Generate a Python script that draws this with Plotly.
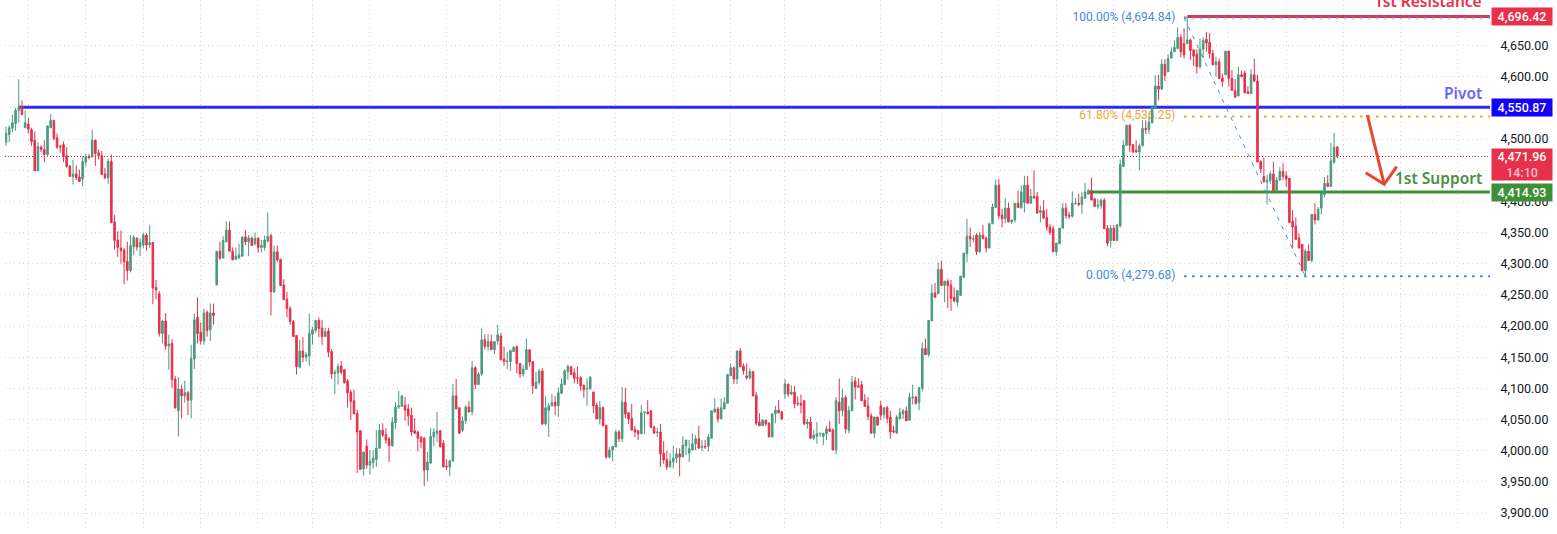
import plotly.graph_objects as go

opens = [4495,4507,4517,4525,4546,4552,4518,4524,4515,4498,
4449,4487,4483,4475,4518,4530,4502,4488,4491,4473,
4457,4440,4444,4439,4436,4463,4472,4471,4498,4478,
4473,4444,4438,4464,4367,4338,4325,4322,4304,4289,
4327,4341,4327,4330,4346,4330,4334,4262,4252,4188,
4208,4168,4172,4115,4064,4099,4088,4093,4081,4147,
4214,4190,4176,4222,4194,4221,4266,4320,4309,4335,
4354,4320,4307,4309,4312,4343,4335,4341,4332,4341,
4326,4326,4336,4345,4255,4319,4307,4266,4243,4228,
4207,4185,4134,4160,4150,4152,4187,4193,4209,4197,
4183,4192,4159,4124,4125,4136,4130,4112,4094,4080,
4060,4032,3971,4007,3977,3981,3986,4004,4033,4026,
4019,4008,4045,4070,4071,4073,4067,4057,4032,4030,
4022,4020,3969,3980,4022,4028,4032,4012,3975,3974,
3984,4088,4069,4033,4048,4070,4062,4133,4106,4123,
4178,4167,4175,4162,4176,4184,4147,4143,4143,4159,
4167,4140,4123,4130,4162,4143,4100,4109,4128,4043,
4065,4072,4078,4072,4092,4106,4127,4135,4125,4117,
4117,4105,4099,4099,4094,4073,4051,4069,4041,3990,
4001,4006,4030,4019,4078,4061,4052,4034,4032,4027,
4061,4062,4064,4038,4029,4030,3996,3986,3975,3982,
3988,3995,3990,4008,3996,4001,4011,4019,4005,4007,
4007,4020,4062,4067,4051,4067,4076,4120,4133,4115,
4160,4136,4120,4117,4127,4089,4046,4040,4049,4044,
4022,4059,4065,4062,4091,4107,4091,4094,4076,4076,
4080,4043,4046,4020,4023,4027,4023,4027,4035,4033,
4001,4078,4064,4085,4033,4064,4112,4104,4106,4081,
4072,4056,4028,4054,4072,4058,4069,4054,4032,4028,
4051,4059,4064,4049,4085,4086,4077,4100,4164,4154,
4208,4253,4252,4291,4265,4272,4266,4246,4238,4249,
4278,4316,4344,4339,4346,4319,4346,4341,4325,4364,
4390,4426,4378,4372,4389,4367,4370,4397,4390,4398,
4426,4397,4408,4408,4382,4385,4374,4359,4356,4319,
4332,4357,4389,4378,4376,4396,4397,4395,4405,4412,
4417,4404,4392,4393,4402,4357,4337,4357,4337,4361,
4456,4490,4522,4491,4482,4479,4489,4517,4515,4526,
4550,4585,4580,4620,4608,4630,4640,4645,4663,4653,
4653,4659,4643,4636,4616,4644,4660,4655,4637,4619,
4624,4598,4603,4641,4597,4578,4569,4603,4606,4576,
4573,4603,4593,4464,4440,4431,4433,4444,4417,4434,
4448,4441,4437,4368,4360,4341,4331,4289,4320,4305,
4379,4370,4389,4411,4429,4424,4463,4487]

highs = [4520,4522,4539,4550,4596,4562,4546,4534,4518,4512,
4495,4490,4498,4521,4540,4530,4509,4491,4496,4487,
4457,4467,4458,4451,4472,4476,4476,4515,4499,4483,
4481,4454,4469,4475,4378,4352,4353,4325,4335,4346,
4346,4342,4341,4350,4349,4362,4335,4274,4256,4210,
4221,4186,4179,4120,4118,4106,4112,4096,4170,4220,
4246,4206,4228,4225,4236,4236,4320,4335,4344,4368,
4368,4326,4326,4332,4343,4354,4346,4343,4350,4342,
4338,4345,4382,4348,4329,4329,4308,4275,4255,4232,
4210,4185,4178,4182,4158,4220,4199,4210,4214,4210,
4197,4197,4163,4130,4140,4144,4130,4115,4098,4098,
4066,4033,3998,4018,4001,4001,4033,4043,4044,4036,
4022,4054,4078,4096,4088,4086,4075,4069,4052,4032,
4023,4022,3998,4036,4036,4062,4033,4017,3986,3984,
4107,4115,4069,4055,4073,4080,4144,4136,4126,4196,
4187,4187,4186,4175,4202,4189,4167,4159,4161,4167,
4169,4140,4138,4180,4162,4143,4126,4131,4132,4087,
4076,4091,4088,4101,4116,4131,4138,4135,4132,4135,
4120,4106,4116,4120,4095,4077,4080,4071,4041,4006,
4007,4033,4033,4102,4101,4061,4075,4040,4033,4073,
4062,4081,4064,4040,4037,4043,4015,4000,3996,4008,
4004,4004,4023,4017,4017,4028,4025,4040,4017,4017,
4027,4064,4084,4070,4084,4086,4123,4140,4135,4160,
4165,4140,4140,4132,4127,4094,4060,4051,4049,4046,
4060,4072,4081,4064,4115,4107,4105,4104,4087,4090,
4081,4051,4054,4033,4046,4028,4028,4040,4048,4036,
4086,4116,4099,4089,4072,4120,4118,4116,4112,4091,
4086,4060,4054,4054,4080,4069,4072,4064,4040,4057,
4069,4067,4071,4093,4106,4088,4102,4174,4180,4209,
4267,4269,4302,4305,4272,4275,4274,4262,4257,4280,
4317,4372,4358,4346,4349,4351,4362,4344,4366,4396,
4435,4436,4388,4405,4398,4370,4397,4417,4425,4441,
4441,4420,4450,4415,4393,4402,4388,4364,4361,4333,
4357,4397,4397,4383,4416,4405,4412,4415,4430,4420,
4438,4404,4404,4405,4405,4362,4362,4362,4364,4467,
4498,4522,4524,4491,4498,4493,4530,4530,4535,4554,
4602,4603,4628,4628,4636,4647,4658,4679,4668,4678,
4694.84,4661,4643,4644,4661,4663,4672,4670,4643,4632,
4629,4605,4641,4641,4611,4596,4616,4610,4610,4585,
4612,4629,4603,4466,4470,4442,4448,4463,4439,4455,
4461,4448,4437,4386,4374,4349,4331,4324,4331,4379,
4397,4391,4413,4439,4442,4494,4510,4489]

lows = [4489,4495,4511,4513,4526,4539,4518,4509,4489,4449,
4449,4479,4463,4472,4518,4498,4484,4478,4463,4454,
4440,4427,4434,4431,4424,4456,4467,4471,4457,4467,
4443,4435,4428,4365,4323,4311,4300,4267,4273,4286,
4314,4321,4312,4325,4321,4325,4235,4243,4183,4172,
4162,4130,4101,4067,4023,4052,4077,4057,4052,4131,
4172,4170,4170,4183,4176,4202,4266,4306,4309,4335,
4319,4306,4307,4308,4312,4330,4312,4329,4329,4318,
4318,4321,4335,4217,4253,4303,4264,4242,4214,4202,
4183,4122,4132,4142,4143,4136,4170,4189,4182,4170,
4183,4150,4115,4091,4106,4122,4108,4069,4049,4059,
3964,3969,3960,3971,3962,3971,3974,4004,4022,4011,
3982,4006,4035,4067,4071,4048,4040,4024,4027,3999,
4004,3943,3951,3980,4007,4014,4006,3974,3969,3959,
3982,4067,4028,4030,4043,4062,4057,4099,4106,4120,
4162,4160,4162,4155,4170,4146,4136,4131,4128,4159,
4124,4117,4119,4130,4135,4091,4099,4106,4041,4041,
4022,4071,4057,4054,4091,4106,4114,4122,4108,4107,
4096,4085,4072,4098,4060,4051,4042,4040,3987,3987,
3983,4006,4014,4014,4052,4043,4033,4022,4017,4027,
4027,4059,4037,4027,4022,3974,3979,3969,3972,3972,
3980,3959,3990,3993,3982,4001,4001,4004,3999,4003,
3999,4020,4061,4045,4051,4067,4076,4120,4107,4107,
4134,4122,4114,4114,4087,4041,4040,4040,4040,4022,
4022,4044,4060,4049,4083,4086,4089,4068,4072,4060,
4041,4035,4019,4017,4011,4022,4009,4017,4031,4001,
3994,4043,4055,4028,4028,4064,4082,4101,4080,4071,
4049,4028,4020,4041,4049,4052,4044,4019,4028,4028,
4051,4051,4048,4048,4074,4074,4065,4095,4154,4151,
4208,4246,4252,4265,4238,4229,4224,4238,4231,4249,
4278,4302,4327,4334,4314,4318,4340,4318,4325,4364,
4390,4372,4358,4365,4367,4364,4366,4390,4388,4382,
4396,4396,4405,4381,4366,4373,4353,4346,4319,4313,
4332,4357,4372,4372,4374,4395,4392,4380,4404,4410,
4402,4391,4388,4388,4356,4328,4326,4337,4337,4358,
4456,4489,4479,4478,4478,4450,4489,4508,4508,4525,
4550,4562,4580,4593,4608,4629,4640,4645,4631,4629,
4653,4627,4617,4605,4612,4630,4640,4629,4619,4600,
4597,4584,4603,4584,4578,4567,4569,4600,4574,4572,
4572,4591,4463,4445,4431,4395,4428,4417,4417,4434,
4434,4423,4366,4324,4339,4325,4289,4279.68,4305,4302,
4363,4370,4379,4406,4424,4423,4460,4469]

closes = [4509,4518,4526,4546,4551,4539,4526,4516,4496,4449,
4488,4483,4475,4521,4530,4501,4487,4487,4472,4456,
4440,4444,4438,4432,4464,4472,4470,4498,4477,4473,
4443,4438,4464,4366,4337,4326,4321,4303,4289,4329,
4342,4327,4334,4346,4330,4334,4261,4258,4188,4208,
4168,4171,4114,4069,4099,4088,4093,4081,4148,4210,
4188,4176,4221,4193,4221,4217,4320,4309,4337,4354,
4320,4306,4312,4314,4343,4335,4341,4329,4341,4326,
4329,4338,4344,4255,4319,4306,4265,4242,4228,4207,
4183,4135,4160,4150,4154,4188,4194,4209,4196,4183,
4191,4158,4123,4126,4135,4126,4109,4093,4079,4059,
4030,3970,3998,3977,3983,3988,4004,4033,4025,4017,
4008,4046,4070,4072,4088,4065,4056,4030,4028,4020,
4014,3969,3982,4023,4030,4032,4006,3974,3974,3984,
4088,4067,4028,4048,4070,4062,4133,4106,4123,4178,
4167,4175,4162,4175,4186,4146,4143,4144,4161,4166,
4140,4123,4131,4162,4142,4104,4110,4128,4043,4069,
4072,4077,4072,4093,4107,4128,4135,4122,4116,4116,
4104,4098,4100,4118,4072,4051,4069,4040,3990,4001,
4007,4030,4019,4078,4059,4051,4033,4030,4027,4061,
4062,4059,4037,4028,4030,3995,3985,3974,3983,3988,
3995,3990,4009,4017,4003,4011,4019,4004,4007,4006,
4022,4064,4067,4051,4069,4077,4122,4133,4115,4160,
4135,4128,4117,4127,4088,4044,4040,4049,4043,4022,
4059,4065,4061,4051,4107,4091,4094,4075,4075,4073,
4043,4046,4020,4025,4027,4028,4028,4035,4031,4001,
4080,4064,4085,4035,4065,4110,4102,4102,4080,4071,
4055,4028,4054,4041,4057,4069,4052,4030,4030,4054,
4061,4064,4048,4086,4086,4076,4101,4164,4154,4209,
4253,4246,4291,4265,4272,4265,4244,4240,4257,4280,
4317,4344,4340,4340,4319,4346,4340,4325,4364,4391,
4426,4377,4372,4389,4367,4370,4397,4390,4415,4426,
4397,4408,4405,4381,4385,4373,4359,4350,4319,4333,
4357,4389,4377,4376,4397,4397,4395,4407,4415,4417,
4402,4392,4394,4402,4356,4333,4357,4337,4362,4459,
4490,4522,4490,4479,4479,4489,4517,4515,4527,4551,
4585,4580,4620,4602,4629,4640,4647,4663,4640,4635,
4659,4642,4633,4616,4644,4658,4654,4637,4619,4624,
4597,4592,4641,4597,4578,4567,4603,4600,4574,4573,
4603,4593,4463,4452,4431,4434,4444,4417,4434,4448,
4440,4436,4366,4359,4339,4325,4289,4320,4305,4379,
4370,4387,4413,4429,4424,4465,4487,4471.96]

resistance = 4696.42
pivot = 4550.87
support = 4414.93
last_price = 4471.96
fib_top = 4694.84
fib_mid = 4536.25
fib_low = 4279.68
countdown = "14:10"
price_ticks = [3900,3950,4000,4050,4100,4150,4200,4250,4300,4350,4400,4450,4500,4550,4600,4650]
grid_bars = [7,24.8,43.1,61,78.7,95.9,113.8,137.9,155,173,191,209,226.9,243.8,273.9,293,311,329,346.8,
             363.8,382.8,401,419,436.7,454.5]
pivot_from, support_from, resistance_from, fib_from, fib_to = 4, 339, 370, 369, 407
arrow_bars = [426.4,431.7,425.9,431.7,435.6]
arrow_prices = [4538.5,4427.4,4446,4427.4,4455.6]

assert len(opens)==len(highs)==len(lows)==len(closes), (len(opens),len(highs),len(lows),len(closes))
n = len(closes)
bars = list(range(n))

# page geometry
W, H = 1557, 534
PL, PR = 5, 1490
first_px, last_px = 6, 1337.3
pitch = (last_px-first_px)/(n-1)
x_range = [-(first_px-PL)/pitch, n-1+(PR-last_px)/pitch]
y_range = [3876, 4723]
RED, GREEN, BLUE = "#E8304A", "#4A9A80", "#2B2BF0"
FIB_BLUE, FIB_ORANGE = "#3F8ADB", "#F0A62E"
FONT = "Roboto"
GRID, GRID_DASH = "#D6D6D6", "1px,3.5px"

fig = go.Figure()

def level(x0, y, color, width, dash=None):
    fig.add_trace(go.Scatter(x=[x0, x_range[1]], y=[y, y], mode="lines", hoverinfo="skip",
                             line=dict(color=color, width=width, dash=dash), showlegend=False))

level(x_range[0], last_price, "#9A3040", 1, "1px,2px")
level(resistance_from, resistance, RED, 3)
level(pivot_from, pivot, BLUE, 3)
level(support_from, support, "#3F8F38", 3)
level(fib_from, fib_top, FIB_BLUE, 2, "2.5px,5.5px")
level(fib_from, fib_mid, FIB_ORANGE, 2, "2.5px,5.5px")
level(fib_from, fib_low, FIB_BLUE, 2, "2.5px,5.5px")
fig.add_trace(go.Scatter(x=[fib_from, fib_to], y=[fib_top, fib_low], mode="lines", hoverinfo="skip",
                         line=dict(color=FIB_BLUE, width=1, dash="4px,6px"), showlegend=False))

for y, pct, col in [(fib_top, "100.00%", FIB_BLUE), (fib_mid, "61.80%", FIB_ORANGE), (fib_low, "0.00%", FIB_BLUE)]:
    fig.add_trace(go.Scatter(x=[fib_from-2.7], y=[y], mode="text", text=[f"{pct} ({y:,.2f})"],
                             textposition="middle left", hoverinfo="skip", showlegend=False,
                             textfont=dict(family=FONT, size=12, color=col)))

fig.add_trace(go.Scatter(x=arrow_bars, y=arrow_prices, mode="lines", hoverinfo="skip", showlegend=False,
                         line=dict(color="#E8482F", width=3)))

fig.add_trace(go.Candlestick(x=bars, open=opens, high=highs, low=lows, close=closes,
                             xaxis="x2", yaxis="y2", hoverinfo="skip", showlegend=False, whiskerwidth=0,
                             increasing=dict(line=dict(color=GREEN, width=1), fillcolor=GREEN),
                             decreasing=dict(line=dict(color=RED, width=1), fillcolor=RED)))

def tag(y, text, bg, h=17, shift=0):
    return dict(x=1+1/(PR-PL), xref="paper", xanchor="left", y=y, yref="y", yanchor="middle", yshift=shift,
                text=text, showarrow=False, bgcolor=bg, width=60, height=h, borderpad=0, align="center",
                font=dict(family=FONT, size=12.5, color="#FFFFFF", weight=500))

def note(y, text, color, shift):
    return dict(x=(1483-PL)/(PR-PL), xref="paper", xanchor="right", y=y, yref="y", yanchor="bottom", yshift=shift,
                text=text, showarrow=False, borderpad=0,
                font=dict(family="Noto Sans", size=15.5, color=color, weight=600))

fig.update_layout(
    width=W, height=H, margin=dict(l=PL, r=W-PR, t=0, b=6), autosize=False,
    paper_bgcolor="white", plot_bgcolor="white", boxgap=0.3, dragmode=False,
    xaxis=dict(range=x_range, tickmode="array", tickvals=grid_bars, showticklabels=False, ticks="",
               showgrid=True, gridcolor=GRID, griddash=GRID_DASH, gridwidth=1, zeroline=False,
               rangeslider=dict(visible=False)),
    yaxis=dict(range=y_range, side="right", tickmode="array", tickvals=price_ticks, tickformat=",.2f",
               showgrid=True, gridcolor=GRID, griddash=GRID_DASH, gridwidth=1, zeroline=False,
               ticks="outside", ticklen=7, tickcolor="rgba(0,0,0,0)",
               tickfont=dict(family=FONT, size=12.5, color="#131722")),
    xaxis2=dict(overlaying="x", matches="x", visible=False, rangeslider=dict(visible=False)),
    yaxis2=dict(overlaying="y", matches="y", visible=False, side="right"),
    annotations=[
        tag(resistance, f"{resistance:,.2f}", RED),
        tag(pivot, f"{pivot:,.2f}", "#1400FF"),
        tag(support, f"{support:,.2f}", "#3F8F38"),
        tag(last_price, f"{last_price:,.2f}<br><span style='color:#F6C4CB'>{countdown}</span>", RED, h=31, shift=-8),
        note(resistance, "1st Resistance", RED, 4),
        note(pivot, "Pivot", "#6A63FF", 2),
        note(support, "1st Support", "#4A8F45", 2),
    ],
)

fig.write_html("out.html", config=dict(displayModeBar=False),
               post_script="document.body.style.margin='0';document.body.style.overflow='hidden';")
